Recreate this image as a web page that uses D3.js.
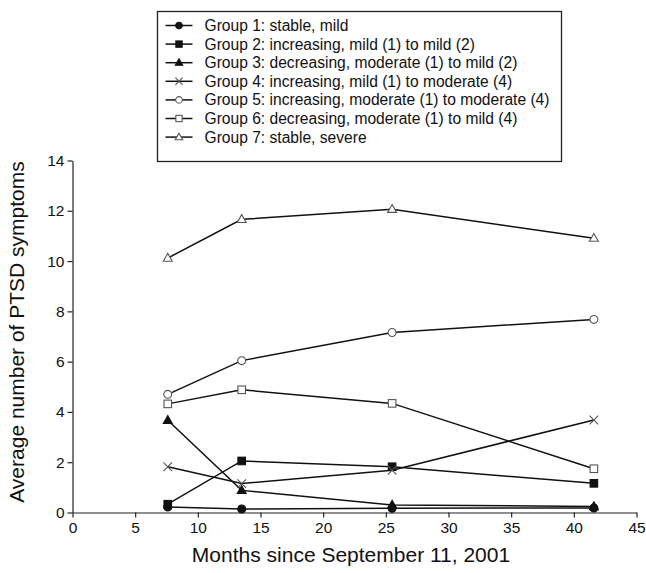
<!DOCTYPE html>
<html>
<head>
<meta charset="utf-8">
<script src="https://cdn.jsdelivr.net/npm/d3@7"></script>
<style>
  body { margin: 0; background: #fff; }
  text { font-family: "Liberation Sans", Arial, sans-serif; fill: #111; }
</style>
</head>
<body>
<svg width="646" height="573"></svg>
<script>
// months since 9/11 for the four waves
const months = [7.6, 13.5, 25.5, 41.6];

const groupNames = [
    "Group 1: stable, mild",
    "Group 2: increasing, mild (1) to mild (2)",
    "Group 3: decreasing, moderate (1) to mild (2)",
    "Group 4: increasing, mild (1) to moderate (4)",
    "Group 5: increasing, moderate (1) to moderate (4)",
    "Group 6: decreasing, moderate (1) to mild (4)",
    "Group 7: stable, severe"
];

const group1 = [0.22, 0.14, 0.17, 0.18];
const group2 = [0.33, 2.05, 1.82, 1.16];
const group3 = [3.67, 0.88, 0.30, 0.24];
const group4 = [1.82, 1.15, 1.68, 3.68];
const group5 = [4.70, 6.04, 7.16, 7.68];
const group6 = [4.32, 4.88, 4.34, 1.74];
const group7 = [10.12, 11.66, 12.06, 10.91];

const markerKinds = ["circle", "square", "triangle", "cross", "circle", "square", "triangle"];
const markerFilled = [true, true, true, false, false, false, false];

const xTicks = [0, 5, 10, 15, 20, 25, 30, 35, 40, 45];
const yTicks = [0, 2, 4, 6, 8, 10, 12, 14];

const allGroups = [group1, group2, group3, group4, group5, group6, group7];

const svg = d3.select("svg");
const margin = {left: 72.5, top: 160.5, right: 9.5, bottom: 60.5};
const width = 646 - margin.left - margin.right;
const height = 573 - margin.top - margin.bottom;

const x = d3.scaleLinear().domain([0, 45]).range([0, width]);
const y = d3.scaleLinear().domain([0, 14]).range([height, 0]);

const g = svg.append("g").attr("transform", `translate(${margin.left},${margin.top})`);

// axes
const xAxis = g.append("g").attr("transform", `translate(0,${height})`)
    .call(d3.axisBottom(x).tickValues(xTicks).tickSize(5).tickSizeOuter(0).tickPadding(4));
const yAxis = g.append("g")
    .call(d3.axisLeft(y).tickValues(yTicks).tickSize(5).tickSizeOuter(0).tickPadding(3));
[xAxis, yAxis].forEach(a => {
    a.select(".domain").attr("stroke", "#222").attr("stroke-width", 1.2);
    a.selectAll(".tick line").attr("stroke", "#222").attr("stroke-width", 1.2);
    a.selectAll(".tick text").attr("font-size", 15.5).attr("fill", "#111")
        .attr("font-family", "Liberation Sans, Arial, sans-serif");
});

svg.append("text").attr("x", 351).attr("y", 562).attr("text-anchor", "middle")
    .attr("font-size", 21).text("Months since September 11, 2001");
svg.append("text").attr("transform", "translate(24,332) rotate(-90)").attr("text-anchor", "middle")
    .attr("font-size", 21).text("Average number of PTSD symptoms");

function drawMarker(sel, kind, filled, size) {
    const fill = filled ? "#111" : "#fff";
    const stroke = filled ? "#111" : "#555";
    if (kind === "circle") {
        sel.append("circle").attr("r", size * 0.55).attr("fill", fill).attr("stroke", stroke).attr("stroke-width", 1.1);
    } else if (kind === "square") {
        const s = size * 1.05;
        sel.append("rect").attr("x", -s / 2).attr("y", -s / 2).attr("width", s).attr("height", s)
            .attr("fill", fill).attr("stroke", stroke).attr("stroke-width", 1.1);
    } else if (kind === "triangle") {
        const s = size * 0.62;
        sel.append("path").attr("d", `M0,${-s * 1.05}L${s},${s * 0.7}L${-s},${s * 0.7}Z`)
            .attr("fill", fill).attr("stroke", stroke).attr("stroke-width", 1.1);
    } else {
        const s = size * 0.6;
        sel.append("path").attr("d", `M${-s},${-s}L${s},${s}M${-s},${s}L${s},${-s}`)
            .attr("fill", "none").attr("stroke", stroke).attr("stroke-width", 1.1);
    }
}

const line = d3.line().x((d, i) => x(months[i])).y(d => y(d));

allGroups.forEach(vals => {
    g.append("path").datum(vals).attr("d", line)
        .attr("fill", "none").attr("stroke", "#111").attr("stroke-width", 1.5);
});

allGroups.forEach((vals, gi) => {
    vals.forEach((v, i) => {
        const m = g.append("g").attr("transform", `translate(${x(months[i])},${y(v)})`);
        drawMarker(m, markerKinds[gi], markerFilled[gi], 7.2);
    });
});

// legend
const legend = svg.append("g").attr("transform", "translate(157.5,11.5)");
legend.append("rect").attr("width", 404).attr("height", 150)
    .attr("fill", "#fff").attr("stroke", "#222").attr("stroke-width", 1.3);
groupNames.forEach((name, i) => {
    const row = legend.append("g").attr("transform", `translate(0,${14 + i * 18.6})`);
    row.append("line").attr("x1", 8).attr("x2", 35).attr("stroke", "#111").attr("stroke-width", 1.5);
    const m = row.append("g").attr("transform", "translate(21.5,0)");
    drawMarker(m, markerKinds[i], markerFilled[i], 6);
    row.append("text").attr("x", 47).attr("y", 5.5).attr("font-size", 15.6).text(name);
});
</script>
</body>
</html>
